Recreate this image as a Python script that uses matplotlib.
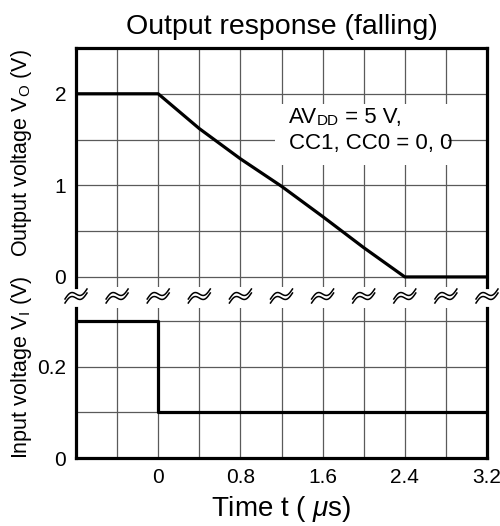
import numpy as np
import matplotlib.pyplot as plt
from matplotlib.lines import Line2D
from matplotlib.transforms import IdentityTransform

plt.rcParams['font.family'] = ['Liberation Sans', 'DejaVu Sans']
plt.rcParams['mathtext.fontset'] = 'custom'
plt.rcParams['mathtext.rm'] = 'Liberation Sans'
plt.rcParams['mathtext.it'] = 'Liberation Sans:italic'

# output (Vo) falling response
t_out = [-0.8, 0.0, 0.4, 0.8, 1.2, 1.6, 2.0, 2.4, 3.2]
v_out = [2.0, 2.0, 1.62, 1.29, 0.99, 0.66, 0.32, 0.0, 0.0]

# input (Vi) step
t_in = [-0.8, 0.0, 0.0, 3.2]
v_in = [0.3, 0.3, 0.1, 0.1]

x_grid = [-0.8, -0.4, 0.0, 0.4, 0.8, 1.2, 1.6, 2.0, 2.4, 2.8, 3.2]
x_labels = ['', '', '0', '', '0.8', '', '1.6', '', '2.4', '', '3.2']
y_grid_out = [0.0, 0.5, 1.0, 1.5, 2.0, 2.5]
y_labels_out = ['0', '', '1', '', '2', '']
y_grid_in = [0.0, 0.1, 0.2, 0.3]
y_labels_in = ['0', '', '0.2', '']

W, H = 500, 526
fig = plt.figure(figsize=(W / 100, H / 100), dpi=100)

left, right = 76 / W, 487 / W
ax1 = fig.add_axes([left, 1 - 287 / H, right - left, (287 - 48) / H])
ax2 = fig.add_axes([left, 1 - 458 / H, right - left, (458 - 308) / H])

grid_kw = dict(color='#5a5a5a', linewidth=0.9)
spine_lw = 2.3

for ax in (ax1, ax2):
    ax.set_xlim(-0.8, 3.2)
    ax.set_xticks(x_grid)
    ax.tick_params(length=0, labelsize=15, pad=7)
    ax.grid(True, **grid_kw)
    ax.set_axisbelow(True)
    for s in ax.spines.values():
        s.set_linewidth(spine_lw)

ax1.set_ylim(-0.11, 2.5)
ax1.set_yticks(y_grid_out, y_labels_out)
ax1.set_xticklabels([])
ax1.spines['bottom'].set_visible(False)
ax1.plot(t_out, v_out, color='black', linewidth=2.3)

ax2.set_ylim(0, 0.328)
ax2.set_yticks(y_grid_in, y_labels_in)
ax2.set_xticklabels(x_labels)
ax2.spines['top'].set_visible(False)
ax2.plot(t_in, v_in, color='black', linewidth=2.3)

ax1.set_title('Output response (falling)', fontsize=20.5, pad=10)
ax2.set_xlabel(r'Time t ( $\mu$s)', fontsize=20, labelpad=5)

fig.text(22 / W, 1 - 153 / H, r'Output voltage V$_\mathrm{O}$ (V)',
         rotation=90, ha='center', va='center', fontsize=15.5)
fig.text(22 / W, 1 - 367 / H, r'Input voltage V$_\mathrm{I}$ (V)',
         rotation=90, ha='center', va='center', fontsize=15.5)

# condition note
t1 = ax1.text(0.518, 0.687, 'AV', transform=ax1.transAxes, fontsize=16,
              va='baseline', ha='left', zorder=5)
t2 = ax1.annotate('DD', xy=(1, 0), xycoords=t1, fontsize=11,
                  va='bottom', ha='left', zorder=5)
ax1.annotate(' = 5 V,', xy=(1, 0), xycoords=t2, fontsize=16,
             va='bottom', ha='left', zorder=5)
ax1.text(0.518, 0.578, 'CC1, CC0 = 0, 0', transform=ax1.transAxes,
         fontsize=16, va='baseline', ha='left', zorder=5)
ax1.add_patch(plt.Rectangle((0.485, 0.51), 0.42, 0.255, transform=ax1.transAxes,
                            facecolor='white', edgecolor='none', zorder=4))

# break marks between the panels
y0 = H - 296
s = np.linspace(0, 1, 50)
wx = -11 + 22 * s
wy = 5.0 * (2 * s - 1) + 3.6 * np.sin(2 * np.pi * s)
for xv in x_grid:
    px = ax1.transData.transform((xv, 0))[0]
    for dy in (-2.0, 2.0):
        fig.add_artist(Line2D(px + wx, y0 + dy + wy, transform=IdentityTransform(),
                              color='black', linewidth=1.1))

fig.savefig('out.png', dpi=100)
